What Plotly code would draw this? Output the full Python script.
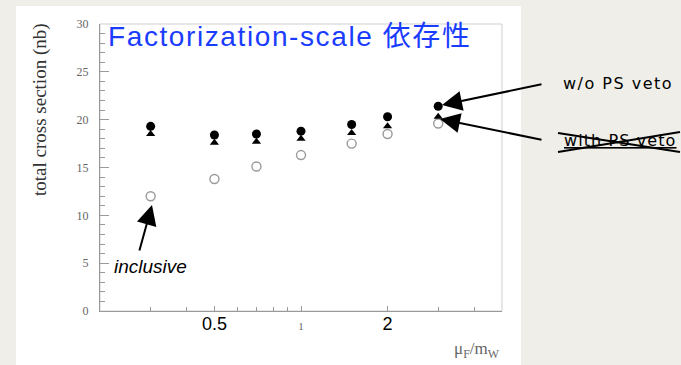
import plotly.graph_objects as go

# Factorization scale mu_F / m_W
mu_ratio = [0.3, 0.5, 0.7, 1.0, 1.5, 2.0, 3.0]
# total cross sections in nb
sigma_no_veto = [19.3, 18.4, 18.5, 18.8, 19.5, 20.3, 21.4]
sigma_veto = [18.5, 17.6, 17.7, 18.0, 18.6, 19.3, 20.3]
sigma_inclusive = [12.0, 13.8, 15.1, 16.3, 17.5, 18.5, 19.6]

x_tick_vals = [0.5, 1, 2]
x_tick_text = [
    '<span style="font-family:Liberation Sans;font-size:18px;fill:#000">0.5</span>',
    '<span style="font-family:Liberation Serif;font-size:11px;fill:#666">1</span>',
    '<span style="font-family:Liberation Sans;font-size:18px;fill:#000">2</span>',
]
x_minor_vals = [0.3, 0.4, 0.6, 0.7, 0.8, 0.9, 3, 4]

W, H = 681, 365
L, R, T, B = 100, 502, 24, 311


def px(x):
    return (x - L) / (R - L)


def py(y):
    return (B - y) / (B - T)


fig = go.Figure()

fig.add_trace(go.Scatter(
    x=mu_ratio, y=sigma_inclusive, mode="markers", name="inclusive",
    marker=dict(symbol="circle", size=9, color="white",
                line=dict(color="#9a9a9a", width=1.4)),
))
fig.add_trace(go.Scatter(
    x=mu_ratio, y=sigma_veto, mode="markers", name="with PS veto",
    marker=dict(symbol="triangle-up", size=8, color="black"),
))
fig.add_trace(go.Scatter(
    x=mu_ratio, y=sigma_no_veto, mode="markers", name="w/o PS veto",
    marker=dict(symbol="circle", size=9, color="black"),
))

shapes = [
    # white slide panel
    dict(type="rect", xref="paper", yref="paper",
         x0=px(16), x1=px(521), y0=py(365), y1=py(6),
         fillcolor="white", line=dict(width=0), layer="below"),
    # light frame around the plotting box
    dict(type="rect", xref="paper", yref="paper",
         x0=0, x1=1, y0=0, y1=1,
         line=dict(color="#cfcfcf", width=1), layer="below"),
    # cross drawn over the "with PS veto" label
    dict(type="line", xref="paper", yref="paper",
         x0=px(558), y0=py(133), x1=px(680), y1=py(152),
         line=dict(color="black", width=2)),
    dict(type="line", xref="paper", yref="paper",
         x0=px(558), y0=py(152), x1=px(680), y1=py(132),
         line=dict(color="black", width=2)),
]

arrow_style = dict(showarrow=True, arrowhead=2, arrowsize=2.0, arrowwidth=2,
                   arrowcolor="black", standoff=0, text="")

annotations = [
    dict(xref="paper", yref="paper", x=px(106), y=py(37),
         xanchor="left", yanchor="middle", showarrow=False,
         text='<span style="letter-spacing:1.6px">Factorization-scale 依存性</span>',
         font=dict(family="Liberation Sans, Noto Sans CJK JP", size=28, color="#1a3cff")),
    dict(xref="paper", yref="paper", x=px(40), y=py(110),
         textangle=-90, showarrow=False, xanchor="center", yanchor="middle",
         text="total cross section (nb)",
         font=dict(family="Liberation Serif", size=19, color="#333333")),
    dict(xref="paper", yref="paper", x=1.0, y=py(350),
         xanchor="right", yanchor="middle", showarrow=False,
         text="μ<sub>F</sub>/m<sub>W</sub>",
         font=dict(family="Liberation Serif", size=17, color="#666666")),
    dict(xref="paper", yref="paper", x=px(150), y=py(266),
         xanchor="center", yanchor="middle", showarrow=False,
         text="<i>inclusive</i>",
         font=dict(family="Liberation Sans", size=19, color="black")),
    dict(xref="paper", yref="paper", x=px(152), y=py(205), ax=-13, ay=47,
         **arrow_style),
    dict(xref="paper", yref="paper", x=px(561), y=py(84),
         xanchor="left", yanchor="middle", showarrow=False,
         text='<span style="letter-spacing:1.5px">w/o PS veto</span>',
         font=dict(family="DejaVu Sans", size=16, color="black")),
    dict(xref="paper", yref="paper", x=px(442), y=py(105), ax=101, ay=-21,
         **arrow_style),
    dict(xref="paper", yref="paper", x=px(562), y=py(140),
         xanchor="left", yanchor="middle", showarrow=False,
         text='<span style="letter-spacing:1.1px"><u>with PS veto</u></span>',
         font=dict(family="DejaVu Sans", size=16, color="black")),
    dict(xref="paper", yref="paper", x=px(440), y=py(119), ax=103, ay=21,
         **arrow_style),
]

fig.update_layout(
    width=W, height=H,
    margin=dict(l=L, r=W - R, t=T, b=H - B, pad=0),
    paper_bgcolor="#efeee8",
    plot_bgcolor="white",
    showlegend=False,
    shapes=shapes,
    annotations=annotations,
    xaxis=dict(
        type="log", range=[-0.69897, 0.69897],
        showgrid=False, zeroline=False,
        showline=True, linecolor="#9a9a9a", linewidth=1,
        ticks="inside", ticklen=5, tickcolor="#9a9a9a",
        tickvals=x_tick_vals, ticktext=x_tick_text,
        ticklabelstandoff=-4,
        tickfont=dict(family="Liberation Sans", size=18, color="black"),
        minor=dict(tickvals=x_minor_vals, ticks="inside", ticklen=4,
                   tickcolor="#9a9a9a", showgrid=False),
    ),
    yaxis=dict(
        range=[0, 30],
        showgrid=False, zeroline=False,
        showline=True, linecolor="#9a9a9a", linewidth=1,
        ticks="inside", ticklen=9, tickcolor="#9a9a9a",
        tickvals=[0, 5, 10, 15, 20, 25, 30],
        ticklabelstandoff=8,
        tickfont=dict(family="Liberation Serif", size=12, color="#666666"),
        minor=dict(dtick=1, ticks="inside", ticklen=5,
                   tickcolor="#9a9a9a", showgrid=False),
    ),
)

fig.write_html("out.html")
